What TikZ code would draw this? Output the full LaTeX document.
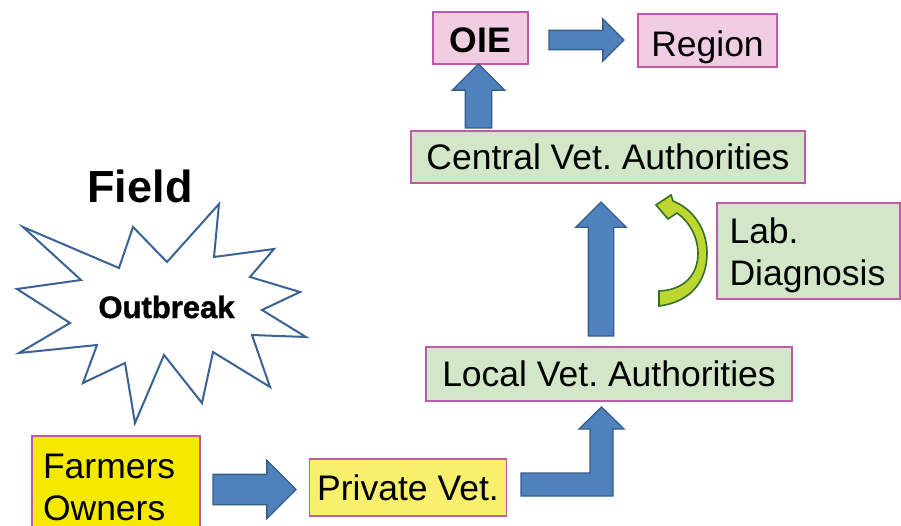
\documentclass[tikz,border=0pt]{standalone}
\usepackage{fontspec}
\setmainfont{Liberation Sans}
\newfontfamily\heavyfont[FakeBold=1.4]{Liberation Sans Bold}
\usetikzlibrary{shapes.arrows, calc}
\frenchspacing

\definecolor{pinkfill}{RGB}{240,205,226}
\definecolor{greenfill}{RGB}{209,231,199}
\definecolor{yellowstrong}{RGB}{246,233,0}
\definecolor{yellowsoft}{RGB}{248,239,108}
\definecolor{boxline}{RGB}{190,90,170}
\definecolor{arrowfill}{RGB}{79,129,189}
\definecolor{arrowline}{RGB}{56,93,138}
\definecolor{starline}{RGB}{58,98,148}
\definecolor{curvefill}{RGB}{190,214,48}
\definecolor{curveline}{RGB}{52,112,38}

\begin{document}
\begin{tikzpicture}[x=1pt, y=-1pt,
  boxbase/.style={draw=boxline, line width=1.1pt, inner sep=0pt, outer sep=0pt,
    font=\fontsize{35.5}{42}\selectfont},
  box/.style={boxbase, text height=25.4pt, text depth=0pt},
  blockarrow/.style={single arrow, draw=arrowline, fill=arrowfill, line width=1.3pt,
    outer sep=0pt, anchor=tail, line join=miter},
  harrow/.style={blockarrow, inner xsep=0pt},
  varrow/.style={blockarrow, shape border rotate=90, inner ysep=0pt},
  bentarrow/.style={draw=arrowline, fill=arrowfill, line width=1.3pt, line join=miter},
  starshape/.style={draw=starline, line width=2pt, fill=white, line join=miter},
  curvearrow/.style={draw=curveline, fill=curvefill, line width=1.6pt, line join=miter},
  burst/.style={font=\fontsize{31}{36}\selectfont\heavyfont, anchor=base}]

\useasboundingbox (0,0) rectangle (901,526);
\fill[white] (0,0) rectangle (901,526);
\clip (0,0) rectangle (901,526);

% ---- boxes ----
\node[box, fill=pinkfill, minimum width=95, minimum height=52, text height=29.4pt,
  font=\fontsize{35.5}{42}\selectfont\bfseries] (oie) at (480.5,38) {OIE};
\node[box, fill=pinkfill, minimum width=139, minimum height=53, text height=31.4pt]
  (region) at (707.5,40.5) {Region};
\node[box, fill=greenfill, minimum width=394, minimum height=52] (central) at (608,157) {Central Vet. Authorities};
\node[boxbase, fill=greenfill, minimum width=183, minimum height=96, align=left,
  text width=158] (lab) at (808.5,251) {\rule{0pt}{33.9pt}Lab.\\Diagnosis};
\node[box, fill=greenfill, minimum width=366, minimum height=54] (local) at (609,374) {Local Vet. Authorities};
\node[boxbase, fill=yellowstrong, anchor=north west, align=left, text width=146,
  inner xsep=11pt, inner ysep=17.6pt] (farmers) at (32,436) {Farmers\\Owners};
\node[box, fill=yellowsoft, minimum width=197, minimum height=57] (pv) at (408,487.5) {Private Vet.};

% ---- block arrows ----
\node[harrow, minimum height=75, inner ysep=9pt, single arrow head extend=11.5pt]
  (a1) at ($(oie.east)+(21,2)$) {};
\node[varrow, minimum height=64, inner xsep=12.5pt, single arrow head extend=13pt]
  (a2) at ($(central.north -| oie.south)+(-2,-3)$) {};
\node[varrow, minimum height=134, inner xsep=12pt, single arrow head extend=12.5pt]
  (a3) at ($(local.north)+(-8,-11)$) {};
\node[harrow, minimum height=83, inner ysep=14.5pt, single arrow head extend=14pt]
  (a4) at ($(farmers.east |- pv.west)+(13,2)$) {};

% bent arrow from the private vet up to the local authorities
\coordinate (bentstart) at ($(pv.east)+(14.5,-3)$);
\draw[bentarrow] (bentstart) ++(0,-11.5) -- ++(69,0) -- ++(0,-44) -- ++(-11,0)
  -- ++(22.5,-22) -- ++(22.5,22) -- ++(-11,0) -- ++(0,67) -- ++(-92,0) -- cycle;

% curved arrow beside the laboratory box
\draw[curvearrow] (659,306) .. controls (691,302) and (707,281) .. (707,253)
  .. controls (707,229) and (693,209) .. (673,201) -- (671,195) -- (656,205)
  -- (668,219) -- (677,213) .. controls (690,222) and (698,238) .. (698,253)
  .. controls (698,275) and (684,290) .. (659,291) -- cycle;

% ---- field and outbreak ----
\node[font=\fontsize{45}{50}\selectfont\bfseries, anchor=base] (field) at (140,203) {Field};

\draw[starshape] (23,227) -- (119,268) -- (133,227) -- (167,262) -- (219,204) -- (214,257)
  -- (274,249) -- (250,277) -- (300,292) -- (262,310) -- (306,337) -- (252,335)
  -- (270,387) -- (213,352) -- (202,403) -- (164,355) -- (135,423) -- (125,363)
  -- (83,383) -- (97,345) -- (19,353) -- (70,323) -- (17,289) -- (81,280) -- cycle;

\node[burst] (outbreak) at (166.5,318) {Outbreak};

\end{tikzpicture}
\end{document}
